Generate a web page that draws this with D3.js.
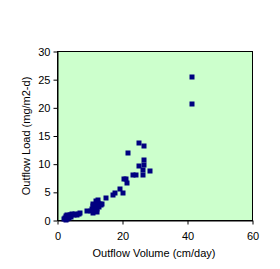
<!DOCTYPE html>
<html>
<head>
<meta charset="utf-8">
<script src="https://cdn.jsdelivr.net/npm/d3@7"></script>
<style>
  body { margin: 0; background: #fff; }
  text { font-family: "Liberation Sans", Arial, sans-serif; }
</style>
</head>
<body>
<svg id="chart"></svg>
<script>
// outflow volume (cm/day) and outflow load (mg/m2-d)
var outflowVolume = [2.0, 2.3, 2.5, 2.8, 3.0, 3.2, 3.5, 3.8, 4.0, 4.3, 4.5, 5.0, 5.5, 6.0, 6.5, 7.0, 3.0, 2.5,
  9.2, 10.2, 10.5, 10.8, 11.0, 11.2, 11.5, 11.8, 12.0, 12.2, 12.5, 12.8, 13.0, 13.5, 13.8, 11.0, 12.0, 10.8, 12.6,
  14.8, 17.0, 17.6, 20.1, 19.2, 21.4, 20.6, 21.1, 24.2, 23.1, 26.2, 28.5, 26.2, 25.1, 26.6, 26.6, 21.7, 26.6, 25.1,
  41.4, 41.4];
var outflowLoad = [0.3, 0.5, 0.8, 0.4, 0.9, 0.6, 0.5, 1.0, 0.7, 0.9, 1.1, 0.9, 1.1, 1.0, 1.2, 1.3, 0.2, 0.1,
  1.7, 1.6, 2.0, 2.5, 1.8, 2.8, 2.2, 3.4, 2.0, 2.6, 3.1, 2.4, 2.9, 2.8, 3.0, 3.0, 1.5, 1.4, 3.6,
  4.0, 4.5, 4.8, 4.8, 5.6, 6.7, 7.4, 7.4, 8.0, 8.1, 8.1, 8.8, 9.0, 9.7, 9.9, 10.8, 12.0, 13.3, 13.8,
  20.7, 25.5];
var xTicks = [0, 20, 40, 60];
var yTicks = [0, 5, 10, 15, 20, 25, 30];

var margins = {left: 57.5, top: 51.5, right: 27.5, bottom: 48.5};
var W = 280, H = 269;

var svg = d3.select("#chart")
  .attr("width", W)
  .attr("height", H);

var xScale = d3.scaleLinear()
  .domain([0, 60])
  .range([margins.left, W - margins.right]);

var yScale = d3.scaleLinear()
  .domain([0, 30])
  .range([H - margins.bottom, margins.top]);

// plot area
svg.append("rect")
  .attr("x", xScale(0))
  .attr("y", yScale(30))
  .attr("width", xScale(60) - xScale(0))
  .attr("height", yScale(0) - yScale(30))
  .attr("fill", "#ccffcc")
  .attr("stroke", "#000")
  .attr("stroke-width", 1);

var xAxis = d3.axisBottom(xScale).tickValues(xTicks).tickSize(4).tickSizeOuter(0);
var yAxis = d3.axisLeft(yScale).tickValues(yTicks).tickSize(4).tickSizeOuter(0);

var gx = svg.append("g")
  .attr("transform", "translate(0," + yScale(0) + ")")
  .call(xAxis);
var gy = svg.append("g")
  .attr("transform", "translate(" + xScale(0) + ",0)")
  .call(yAxis);

[gx, gy].forEach(function(g) {
  g.select(".domain").attr("stroke", "#000");
  g.selectAll(".tick line").attr("stroke", "#000");
  g.selectAll(".tick text")
    .attr("fill", "#000")
    .style("font-size", "11px")
    .style("font-family", "'Liberation Sans', Arial, sans-serif");
});
gx.selectAll(".tick text").attr("dy", "1.1em");
gy.selectAll(".tick text").attr("x", -7);

// markers
var pts = outflowVolume.map(function(v, i) { return {x: v, y: outflowLoad[i]}; });
svg.append("g")
  .selectAll("rect")
  .data(pts)
  .enter()
  .append("rect")
  .attr("x", function(d) { return Math.round(xScale(d.x)) - 2.5; })
  .attr("y", function(d) { return Math.round(yScale(d.y)) - 2.5; })
  .attr("width", 5)
  .attr("height", 5)
  .attr("fill", "#000080");

// axis titles
svg.append("text")
  .attr("x", 154)
  .attr("y", 257)
  .attr("text-anchor", "middle")
  .style("font-size", "11px")
  .text("Outflow Volume (cm/day)");

svg.append("text")
  .attr("transform", "translate(30,136) rotate(-90)")
  .attr("text-anchor", "middle")
  .style("font-size", "11px")
  .text("Outflow Load (mg/m2-d)");
</script>
</body>
</html>
